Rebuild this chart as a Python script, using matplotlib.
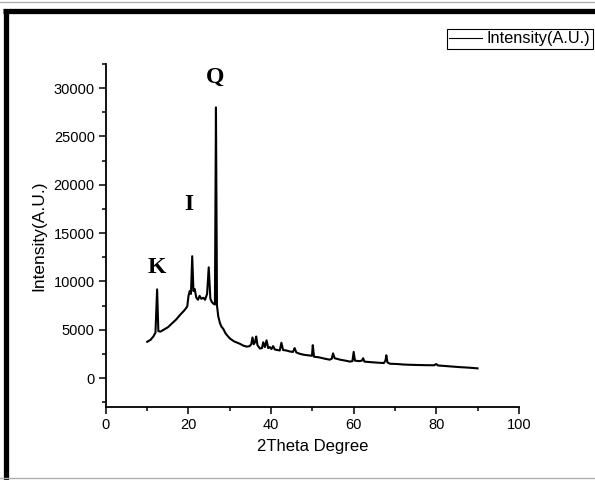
import matplotlib
matplotlib.use("Agg")
import matplotlib.pyplot as plt
from matplotlib.lines import Line2D
from matplotlib.ticker import MultipleLocator

two_theta = [10.0, 10.8, 11.5, 12.0, 12.4, 12.7, 13.2, 14.0, 15.0, 16.0, 17.0, 18.0, 19.0, 19.7,
             20.0, 20.3, 20.6, 20.9, 21.2, 21.5, 21.9, 22.3, 22.7, 23.1, 23.6, 24.0, 24.5, 24.9,
             25.3, 25.6, 26.0, 26.4, 26.65, 26.9, 27.2, 27.6, 28.0, 28.4, 29.0, 30.0, 31.0, 32.4,
             33.3, 34.1, 34.8, 35.2, 35.5, 35.8, 36.1, 36.4, 36.7, 37.3, 37.8, 38.1, 38.5, 38.9,
             39.3, 39.7, 40.1, 40.5, 40.9, 41.5, 42.1, 42.5, 42.9, 43.7, 44.5, 45.3, 45.7, 46.1,
             47.0, 48.0, 49.0, 49.9, 50.1, 50.4, 51.5, 53.0, 54.2, 54.7, 55.0, 55.4, 56.7, 58.0,
             59.1, 59.7, 60.0, 60.3, 61.3, 62.0, 62.3, 62.6, 63.9, 65.5, 67.3, 67.7, 67.9, 68.2,
             68.8, 70.5, 72.0, 73.6, 75.5, 77.5, 79.5, 80.0, 80.4, 82.0, 84.1, 86.0, 88.0, 90.0]
intensity = [3750, 3950, 4300, 4700, 9170, 4850, 4800, 5000, 5250, 5650, 6050, 6550, 7000, 7400,
             8500, 9000, 8700, 12600, 9000, 9200, 8300, 8100, 8500, 8200, 8300, 8100, 8700, 11450,
             8200, 7900, 7700, 7600, 28000, 7500, 6400, 5700, 5300, 5100, 4600, 4100, 3800, 3550,
             3350, 3250, 3300, 3500, 4200, 3500, 3700, 4300, 3400, 3050, 3100, 3700, 3200, 3900,
             3100, 3200, 3000, 3300, 2950, 2900, 2850, 3650, 2900, 2850, 2750, 2700, 3100, 2650,
             2500, 2400, 2350, 2300, 3400, 2200, 2150, 2000, 1900, 2000, 2550, 2050, 1900, 1800,
             1700, 1750, 2700, 1800, 1750, 1800, 2050, 1700, 1650, 1600, 1550, 1800, 2350, 1600,
             1480, 1450, 1400, 1370, 1350, 1330, 1320, 1450, 1300, 1250, 1180, 1120, 1070, 1000]

peak_labels = ["K", "I", "Q"]
peak_label_x = [12.3, 20.1, 26.4]
peak_label_y = [11400, 17900, 31100]

font = "Liberation Sans"
fig = plt.figure(figsize=(5.95, 4.8), dpi=100)
ax = fig.add_axes([0.178, 0.152, 0.694, 0.715])

ax.plot(two_theta, intensity, color="black", linewidth=1.5, label="Intensity(A.U.)")

for lab, lx, ly in zip(peak_labels, peak_label_x, peak_label_y):
    ax.text(lx, ly, lab, ha="center", va="center", fontsize=17, fontweight="bold",
            family="Liberation Serif")

ax.set_xlim(0, 100)
ax.set_ylim(-3000, 32500)
ax.xaxis.set_major_locator(MultipleLocator(20))
ax.xaxis.set_minor_locator(MultipleLocator(10))
ax.yaxis.set_major_locator(MultipleLocator(5000))
ax.yaxis.set_minor_locator(MultipleLocator(2500))
ax.spines["top"].set_visible(False)
ax.spines["right"].set_visible(False)
for s in ("left", "bottom"):
    ax.spines[s].set_linewidth(1.3)
ax.tick_params(which="major", direction="out", length=5, width=1.1, labelsize=10.5, pad=3)
ax.tick_params(which="minor", direction="out", length=3, width=1.1)
for t in ax.get_xticklabels() + ax.get_yticklabels():
    t.set_family(font)

ax.set_xlabel("2Theta Degree", fontsize=12, family=font, labelpad=5)
ax.set_ylabel("Intensity(A.U.)", fontsize=12.5, family=font, labelpad=5)

leg = fig.legend(loc="upper left", bbox_to_anchor=(0.751, 0.94), borderaxespad=0,
                 fancybox=False, edgecolor="black", framealpha=1, handlelength=2.0,
                 handletextpad=0.3, borderpad=0.15, prop={"family": font, "size": 11.8})
leg.get_frame().set_linewidth(0.8)
for h in leg.get_lines():
    h.set_linewidth(0.8)

# figure frame
fig.add_artist(Line2D([3 / 595, 1.0], [1 - 11 / 480, 1 - 11 / 480], transform=fig.transFigure,
                      color="black", linewidth=3.8, solid_capstyle="butt"))
fig.add_artist(Line2D([5.5 / 595, 5.5 / 595], [0.0, 1 - 9 / 480], transform=fig.transFigure,
                      color="black", linewidth=3.8, solid_capstyle="butt"))
fig.add_artist(Line2D([0, 1], [1 - 1.5 / 480, 1 - 1.5 / 480], transform=fig.transFigure,
                      color="#b0b0b0", linewidth=1.0))
fig.add_artist(Line2D([0, 1], [2.5 / 480, 2.5 / 480], transform=fig.transFigure,
                      color="#b0b0b0", linewidth=1.0))

fig.savefig("out.png", dpi=100)
